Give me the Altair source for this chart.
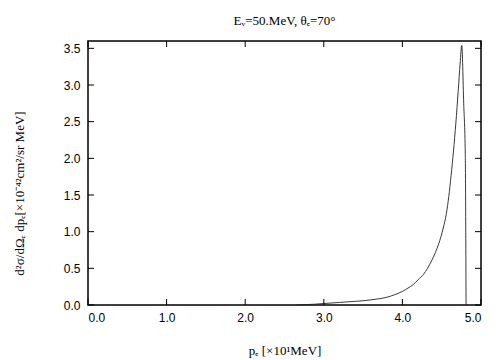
import altair as alt
import pandas as pd

# curve values
p_e = [2.65, 2.9, 3.0, 3.2, 3.4, 3.5, 3.6, 3.7, 3.8, 3.9, 4.0, 4.07, 4.14, 4.2,
       4.27, 4.32, 4.37, 4.42, 4.46, 4.49, 4.52, 4.56, 4.59, 4.62, 4.65, 4.68,
       4.71, 4.735, 4.755, 4.78, 4.80, 4.81]
sigma = [0.0, 0.012, 0.02, 0.035, 0.05, 0.058, 0.07, 0.085, 0.105, 0.14, 0.185, 0.23,
         0.28, 0.345, 0.42, 0.50, 0.60, 0.715, 0.83, 0.93, 1.05, 1.25, 1.48, 1.77, 2.1,
         2.48, 2.92, 3.3, 3.54, 2.75, 2.05, 0.0]

x_ticks = [0.0, 1.0, 2.0, 3.0, 4.0, 5.0]
y_ticks = [0.0, 0.5, 1.0, 1.5, 2.0, 2.5, 3.0, 3.5]

X_MAX = 5.0
Y_MAX = 3.6
W, H = 393, 264
TICK = 6

curve = pd.DataFrame({"p": p_e, "s": sigma})
xt = pd.DataFrame({"v": x_ticks})
yt = pd.DataFrame({"v": y_ticks})

xs = alt.Scale(domain=[0, X_MAX], nice=False, zero=False)
ys = alt.Scale(domain=[0, Y_MAX], nice=False, zero=False)

x_axis = alt.Axis(values=x_ticks, format=".1f", tickSize=0, domain=False, grid=False,
                  labelFont="Liberation Sans", labelFontSize=12, labelColor="black",
                  labelPadding=7, labelOverlap=False,
                  title="pₑ  [×10¹MeV]", titleFont="Liberation Serif", titleFontSize=13,
                  titleFontWeight="normal", titlePadding=21, titleColor="black")
y_axis = alt.Axis(values=y_ticks, format=".1f", tickSize=0, domain=False, grid=False,
                  labelFont="Liberation Sans", labelFontSize=12, labelColor="black",
                  labelPadding=8, labelOverlap=False,
                  title="d²σ/dΩₑ dpₑ[×10⁻⁴²cm²/sr MeV]", titleFont="Liberation Serif",
                  titleFontSize=13, titleFontWeight="normal", titleColor="black",
                  titleX=-62, titleY=152)

dx = TICK / W * X_MAX
dy = TICK / H * Y_MAX

line = alt.Chart(curve).mark_line(color="#222222", strokeWidth=0.9, interpolate="monotone").encode(
    x=alt.X("p:Q", scale=xs, axis=x_axis),
    y=alt.Y("s:Q", scale=ys, axis=y_axis),
)

tick_style = dict(color="black", strokeWidth=1)
bottom = alt.Chart(xt).mark_rule(**tick_style).encode(
    x=alt.X("v:Q", scale=xs, axis=x_axis), y=alt.datum(0, scale=ys, axis=y_axis), y2=alt.datum(dy))
top = alt.Chart(xt).mark_rule(**tick_style).encode(
    x=alt.X("v:Q", scale=xs, axis=x_axis), y=alt.datum(Y_MAX, scale=ys, axis=y_axis), y2=alt.datum(Y_MAX - dy))
left = alt.Chart(yt).mark_rule(**tick_style).encode(
    y=alt.Y("v:Q", scale=ys, axis=y_axis), x=alt.datum(0, scale=xs, axis=x_axis), x2=alt.datum(dx))
right = alt.Chart(yt).mark_rule(**tick_style).encode(
    y=alt.Y("v:Q", scale=ys, axis=y_axis), x=alt.datum(X_MAX, scale=xs, axis=x_axis), x2=alt.datum(X_MAX - dx))

chart = alt.layer(line, bottom, top, left, right).properties(
    width=W, height=H,
    title=alt.TitleParams("Eᵥ=50.MeV,  θₑ=70°", font="Liberation Serif", fontSize=13,
                          fontWeight="normal", color="black", offset=13),
    padding={"left": 5, "top": 6, "right": 5, "bottom": 5},
).configure(background="white", view=alt.ViewConfig(stroke="black", strokeWidth=1.5))

chart.save("out.html", embed_options={"renderer": "svg", "actions": False})
